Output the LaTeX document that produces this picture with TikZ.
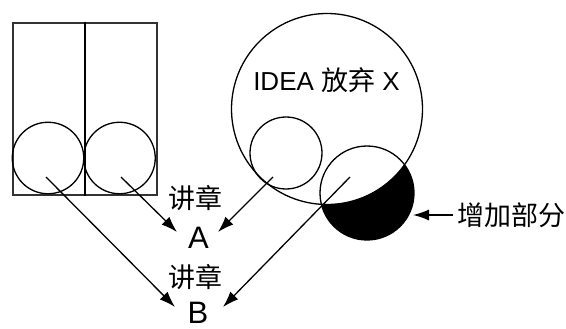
\documentclass[tikz,border=0pt]{standalone}
\usepackage{fontspec}
\setmainfont{Liberation Sans}
\newfontfamily\cjk{Noto Sans CJK SC}
\usetikzlibrary{arrows.meta}
\begin{document}
\begin{tikzpicture}[x=1pt,y=-1pt,
  ring/.style={circle, draw, line width=1.3pt, inner sep=0pt, minimum size=#1},
  conn/.style={line width=1.3pt, -{Latex[length=16pt,width=11pt]}},
  cjklbl/.style={inner sep=0pt, font=\cjk\fontsize{27}{27}\selectfont},
  letter/.style={inner sep=0pt, font=\fontsize{31}{31}\selectfont}]
\useasboundingbox (0,0) rectangle (566,329);
% left frame
\node[draw=black!80, line width=2pt, minimum width=143.5pt, minimum height=172pt, inner sep=0pt, anchor=north west] (box) at (12.3,22) {};
\draw[line width=1.2pt] (box.north) -- (box.south);
\node[ring=71.5pt] (c1) at (48,158) {};
\node[ring=71.5pt] (c2) at (119.5,158) {};
% big idea circle
\begin{scope}
  \clip (367,193) circle[radius=47pt];
  \fill[even odd rule] (367,193) circle[radius=47pt] (327,109) circle[radius=95.5pt];
\end{scope}
\node[ring=191pt] (big) at (327,109) {};
\node[ring=72pt] (c3) at (286,153) {};
\node[ring=94pt] (c4) at (367,193) {};
\node[anchor=base, inner sep=0pt, font=\fontsize{26}{26}\selectfont] (idea) at (326.5,91) {IDEA {\cjk\fontsize{27}{27}\selectfont 放弃} X};
% labels
\node[cjklbl] (j1) at (195,198) {讲章};
\node[letter] (A) at (198.5,237.5) {A};
\node[cjklbl] (j2) at (195,277.5) {讲章};
\node[letter] (B) at (198,312.5) {B};
\node[cjklbl] (zeng) at (511,215) {增加部分};
% connector end points
\coordinate (s1) at (46,177);
\coordinate (s2) at (121,177);
\coordinate (s3) at (273,177);
\coordinate (s4) at (350,177);
\coordinate (tB1) at (175,307);
\coordinate (tA1) at (177,232);
\coordinate (tA2) at (218,232);
\coordinate (tB2) at (223,307);
\coordinate (tK) at (413,215);
\draw[conn] (s1) -- (tB1);
\draw[conn] (s2) -- (tA1);
\draw[conn] (s3) -- (tA2);
\draw[conn] (s4) -- (tB2);
\draw[conn, shorten <=4pt] (zeng.west) -- (tK);
\end{tikzpicture}
\end{document}
